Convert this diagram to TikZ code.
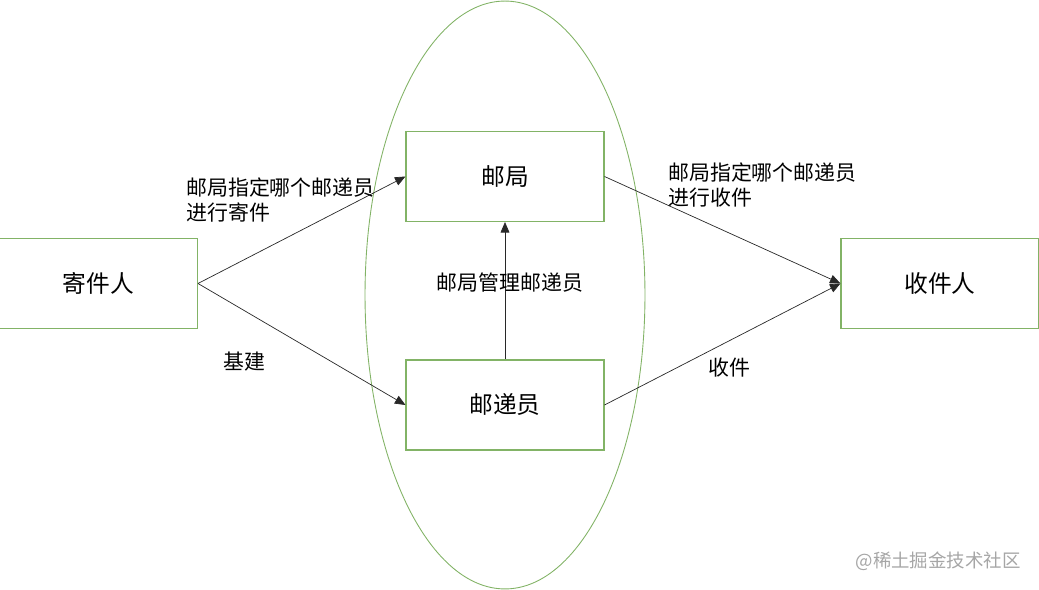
\documentclass[tikz,border=0pt]{standalone}
\usepackage{fontspec}
\newfontfamily\cjk{Noto Sans CJK SC}
\usetikzlibrary{arrows.meta, positioning}
\definecolor{BoxGreen}{RGB}{130, 179, 102}
\definecolor{LineGray}{RGB}{40, 40, 40}

\begin{document}
\begin{tikzpicture}[x=0.02cm, y=-0.02cm,
    box/.style={draw=BoxGreen, line width=0.6pt, minimum width=3.96cm, minimum height=1.8cm, font=\cjk\fontsize{13.5}{15}\selectfont},
    lbl/.style={font=\cjk\fontsize{11.9}{14.2}\selectfont, inner sep=0pt},
    link/.style={draw=LineGray, line width=0.4pt, -{Triangle[length=6pt, width=5pt]}}]
    \useasboundingbox (0,0) rectangle (1039,590);

    % Ellipse
    \draw[BoxGreen, line width=0.5pt] (505,295) ellipse [x radius=2.8cm, y radius=5.88cm];

    % Boxes
    \node[box] (sender) at (98.5,283.5) {寄件人};
    \node[box] (office) at (505,176.5) {邮局};
    \node[box] (postman) at (505,405) {邮递员};
    \node[box] (receiver) at (940,283.5) {收件人};

    % Arrows
    \draw[link] (sender.east) -- (office.west);
    \draw[link] (sender.east) -- (postman.west);
    \draw[link] (postman.north) -- (office.south);
    \draw[link] (office.east) -- (receiver.west);
    \draw[link] (postman.east) -- (receiver.west);

    % Labels
    \node[lbl, anchor=west, align=left] (l1) at (186,200) {邮局指定哪个邮递员\\进行寄件};
    \node[lbl] (l2) at (244,362) {基建};
    \node[lbl] (l3) at (510,283) {邮局管理邮递员};
    \node[lbl, anchor=west, align=left] (l4) at (668,185) {邮局指定哪个邮递员\\进行收件};
    \node[lbl] (l5) at (729,368) {收件};

    % Watermark
    \node[font=\cjk\fontsize{10.5}{12}\selectfont, text=gray!70, anchor=east, inner sep=0pt] (mark) at (1021,561) {@稀土掘金技术社区};
\end{tikzpicture}
\end{document}
